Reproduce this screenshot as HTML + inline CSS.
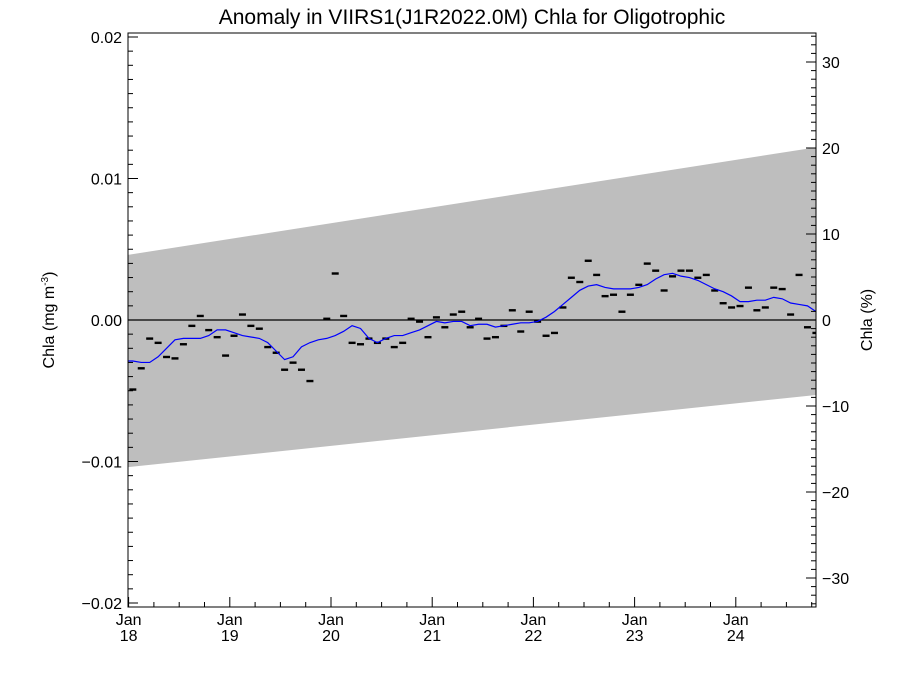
<!DOCTYPE html>
<html><head><meta charset="utf-8"><style>
html,body{margin:0;padding:0;background:#fff;}
svg text{font-family:"Liberation Sans",sans-serif;fill:#000;}
</style></head><body>
<svg id="chart" width="900" height="675" viewBox="0 0 900 675" xmlns="http://www.w3.org/2000/svg">
<defs><clipPath id="pc"><rect x="128" y="33" width="688" height="574"/></clipPath></defs>
<text x="472" y="24" font-size="21" text-anchor="middle">Anomaly in VIIRS1(J1R2022.0M) Chla for Oligotrophic</text>
<g id="band" clip-path="url(#pc)"></g>
<g id="marks" clip-path="url(#pc)"></g>
<g id="axes"></g>
<text transform="translate(54,320) rotate(-90)" font-size="16" text-anchor="middle">Chla (mg m<tspan font-size="10" dy="-6">-3</tspan><tspan dy="6">)</tspan></text>
<text transform="translate(872,320) rotate(-90)" font-size="16" text-anchor="middle">Chla (%)</text>
</svg>
<script>
// data: month index from Jan 2018 (mid-month), anomaly values (mg m^-3)
const obsMonths = [-1,0,1,2,3,4,5,6,7,8,9,10,11,12,13,14,15,16,17,18,19,20,21,23,24,25,26,27,28,29,30,31,32,33,34,35,36,37,38,39,40,41,42,43,44,45,46,47,48,49,50,51,52,53,54,55,56,57,58,59,60,61,62,63,64,65,66,67,68,69,70,71,72,73,74,75,76,77,78,79,80,81];
const obsValues = [-0.0039,-0.0049,-0.0034,-0.0013,-0.0016,-0.0026,-0.0027,-0.0017,-0.0004,0.0003,-0.0007,-0.0012,-0.0025,-0.0011,0.0004,-0.0004,-0.0006,-0.0019,-0.0023,-0.0035,-0.0030,-0.0035,-0.0043,0.0001,0.0033,0.0003,-0.0016,-0.0017,-0.0013,-0.0016,-0.0013,-0.0019,-0.0016,0.0001,-0.0001,-0.0012,0.0002,-0.0005,0.0004,0.0006,-0.0005,0.0001,-0.0013,-0.0012,-0.0004,0.0007,-0.0008,0.0006,-0.0001,-0.0011,-0.0009,0.0009,0.0030,0.0027,0.0042,0.0032,0.0017,0.0018,0.0006,0.0018,0.0025,0.0040,0.0035,0.0021,0.0031,0.0035,0.0035,0.0030,0.0032,0.0021,0.0012,0.0009,0.0010,0.0023,0.0007,0.0009,0.0023,0.0022,0.0004,0.0032,-0.0005,-0.0009];
const meanMonths = [-1,0,1,2,3,4,5,6,7,8,9,10,11,12,13,14,15,16,17,18,19,20,21,22,23,24,25,26,27,28,29,30,31,32,33,34,35,36,37,38,39,40,41,42,43,44,45,46,47,48,49,50,51,52,53,54,55,56,57,58,59,60,61,62,63,64,65,66,67,68,69,70,71,72,73,74,75,76,77,78,79,80,81];
const meanValues = [-0.0029,-0.0029,-0.0030,-0.0030,-0.0026,-0.0020,-0.0014,-0.0013,-0.0013,-0.0013,-0.0011,-0.0007,-0.0007,-0.0009,-0.0011,-0.0012,-0.0013,-0.0016,-0.0022,-0.0028,-0.0026,-0.0019,-0.0016,-0.0014,-0.0013,-0.0011,-0.0008,-0.0004,-0.0006,-0.0013,-0.0016,-0.0013,-0.0011,-0.0011,-0.0009,-0.0007,-0.0004,-0.0001,-0.0002,-0.0001,-0.0001,-0.0004,-0.0003,-0.0003,-0.0005,-0.0004,-0.0003,-0.0002,-0.0002,-0.0001,0.0002,0.0006,0.0011,0.0016,0.0021,0.0024,0.0025,0.0023,0.0022,0.0022,0.0022,0.0023,0.0025,0.0029,0.0032,0.0033,0.0031,0.0030,0.0028,0.0025,0.0022,0.0020,0.0017,0.0013,0.0013,0.0014,0.0014,0.0016,0.0015,0.0012,0.0011,0.0010,0.0006];
const bandUpper = [0.0046, 0.0122];
const bandLower = [-0.0104, -0.0053];
const yTicksLeft = [-0.02,-0.01,0,0.01,0.02];
const yTickLabelsLeft = ["\u22120.02","\u22120.01","0.00","0.01","0.02"];
const yTicksRight = [-30,-20,-10,0,10,20,30];
const yTickLabelsRight = ["\u221230","\u221220","\u221210","0","10","20","30"];
const xTickYears = [18,19,20,21,22,23,24];

const NS="http://www.w3.org/2000/svg";
const L=128,R=816,T=33,B=607;
const x0=128.6, pxPerMonth=101.2/12;
const xScale=m=>x0+(m+0.5)*pxPerMonth;
const xYear=y=>x0+(y-18)*101.2;
const yScale=v=>320-v*14150;
const yPct=p=>320-p*8.6;
function mk(tag,attrs,parent){const e=document.createElementNS(NS,tag);for(const k in attrs)e.setAttribute(k,attrs[k]);parent.appendChild(e);return e;}
const band=document.getElementById('band'),marks=document.getElementById('marks'),axes=document.getElementById('axes');

const bp=mk('polygon',{points:`${L},${yScale(bandUpper[0])} ${R},${yScale(bandUpper[1])} ${R},${yScale(bandLower[1])} ${L},${yScale(bandLower[0])}`,fill:'#bebebe'},band);



const zl=mk('line',{x1:L,x2:R,y1:yScale(0),y2:yScale(0),stroke:'#000','stroke-width':1.3},marks);



obsMonths.forEach((m,i)=>{
  const cx=xScale(m),cy=yScale(obsValues[i]);
  const r=mk('rect',{x:cx-3.5,y:cy-1,width:7,height:2.4,fill:'#000'},marks);
  
  
});
const pl=mk('polyline',{points:meanMonths.map((m,i)=>xScale(m)+','+yScale(meanValues[i])).join(' '),fill:'none',stroke:'#0000ff','stroke-width':1.2},marks);



const fr=mk('rect',{x:L,y:T,width:R-L,height:B-T,fill:'none',stroke:'#000','stroke-width':1},axes);



// left minor ticks
for(let k=-20;k<=20;k++){const y=yScale(k*0.001);if(y<T||y>B)continue;const major=k%10===0;
  const t=mk('line',{x1:L,x2:L+(major?10:5),y1:y,y2:y,stroke:'#000'},axes);
  
  }
yTicksLeft.forEach((v,i)=>{const t=mk('text',{x:L-6,y:yScale(v)+6,'font-size':16,'text-anchor':'end'},axes);t.textContent=yTickLabelsLeft[i];
  
  });
// right ticks
for(let p=-33;p<=33;p++){const y=yPct(p);if(y<T||y>B)continue;const major=p%10===0;
  const t=mk('line',{x1:R,x2:R-(major?10:5),y1:y,y2:y,stroke:'#000'},axes);
  
  }
yTicksRight.forEach((p,i)=>{const t=mk('text',{x:R+6,y:yPct(p)+6,'font-size':16},axes);t.textContent=yTickLabelsRight[i];
  
  });
// x ticks
for(let q=0;q<28;q++){const x=xYear(18+q/4);if(x>R)continue;const major=q%4===0;
  const t=mk('line',{x1:x,x2:x,y1:B,y2:B-(major?10:5),stroke:'#000'},axes);
  
  }
xTickYears.forEach(yr=>{const x=xYear(yr);
  const a=mk('text',{x:x,y:625,'font-size':16,'text-anchor':'middle'},axes);a.textContent='Jan';
  
  
  const b=mk('text',{x:x,y:641,'font-size':16,'text-anchor':'middle'},axes);b.textContent=String(yr);
  
  });
</script>
</body></html>
